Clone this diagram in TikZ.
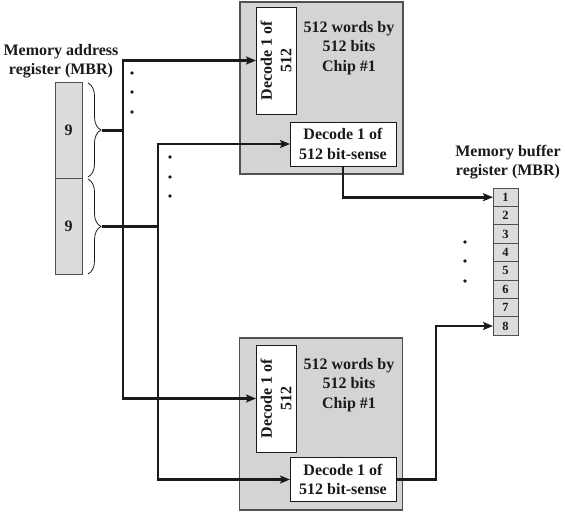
\documentclass[tikz,border=0pt]{standalone}
\usepackage{fontspec}
\setmainfont{Liberation Serif}
\usetikzlibrary{arrows.meta,decorations.pathreplacing,calc}
\definecolor{chipgray}{HTML}{D4D4D4}
\definecolor{reggray}{HTML}{DCDCDC}
\definecolor{edge}{HTML}{505050}
\definecolor{ink}{HTML}{1A1A1A}
\begin{document}
\begin{tikzpicture}[x=1pt,y=-1pt,
  every node/.style={font=\fontsize{16}{19.5}\selectfont\bfseries, inner sep=0pt, outer sep=0pt, text=ink},
  chip/.style={draw=edge, line width=1.2pt, fill=chipgray, minimum width=163pt, minimum height=172pt},
  decv/.style={draw=ink, line width=0.9pt, fill=white, minimum width=40pt, minimum height=107pt},
  dech/.style={draw=ink, line width=0.9pt, fill=white, minimum width=106pt, minimum height=44pt, align=center},
  marcell/.style={draw=edge, line width=0.9pt, fill=reggray, minimum width=27pt, minimum height=96pt},
  mbrcell/.style={draw=edge, line width=0.9pt, fill=reggray, minimum width=25pt, minimum height=18.4pt, font=\fontsize{12.5}{13}\selectfont\bfseries},
  bus/.style={line width=2.7pt, draw=ink},
  arr/.style={-{Stealth[length=10pt,width=8pt,inset=2pt]}},
  brc/.style={decorate, decoration={brace, amplitude=13pt}, line width=0.8pt, draw=ink},
  lbl/.style={align=center},
  dot/.style={fill=ink},
]
\useasboundingbox (0,0) rectangle (565,517);

% chips
\node[chip] (chip1) at (321.5,88) {};
\node[chip] (chip2) at (321,424) {};
\node[lbl] (t1) at (349,48) {512 words by\\512 bits\\Chip \#1};
\node[lbl] (t2) at (349,385) {512 words by\\512 bits\\Chip \#1};

% decoders
\node[decv] (dec1) at (276,60.5) {};
\node[rotate=90, lbl] (dt1) at (dec1.center) {Decode 1 of\\512};
\node[decv] (dec2) at (276,398.5) {};
\node[rotate=90, lbl] (dt2) at (dec2.center) {Decode 1 of\\512};
\node[dech] (bs1) at (343,144) {Decode 1 of\\512 bit-sense};
\node[dech] (bs2) at (343,479.5) {Decode 1 of\\512 bit-sense};

% memory address register
\node[lbl] (marl) at (61,61) {Memory address\\register (MBR)};
\node[marcell] (m1) at (68.5,130) {9};
\node[marcell] (m2) at (68.5,226) {9};
\draw[brc] (88,83) -- (88,177);
\draw[brc] (88,179) -- (88,274);
\coordinate (b1) at (102,130.5);
\coordinate (b2) at (102,226.5);
\coordinate (j1) at (123,130.5);
\coordinate (j2) at (158,226.5);

% memory buffer register
\node[lbl] (mbrl) at (508,162) {Memory buffer\\register (MBR)};
\foreach \i in {1,...,8}{
  \node[mbrcell] (c\i) at (505.5,{188+9.2+(\i-1)*18.4}) {\i};
}

% buses
\draw[bus,arr] (b1) -- (j1) |- (dec1.west);
\draw[bus,arr] (j1) |- (dec2.west);
\draw[bus,arr] (b2) -- (j2) |- (bs1.west);
\draw[bus,arr] (j2) |- (bs2.west);
\coordinate (k) at (436,479.5);
\draw[bus,arr] (bs1.south) |- (c1.west);
\draw[bus,arr] (bs2.east) -- (k) |- (c8.west);

% ellipsis dots
\foreach \y in {73,92,112}{\fill[dot] (132,\y) circle (1.9);}
\foreach \y in {157,177,196}{\fill[dot] (170,\y) circle (1.9);}
\foreach \y in {242,261,281}{\fill[dot] (465,\y) circle (1.9);}
\end{tikzpicture}
\end{document}
